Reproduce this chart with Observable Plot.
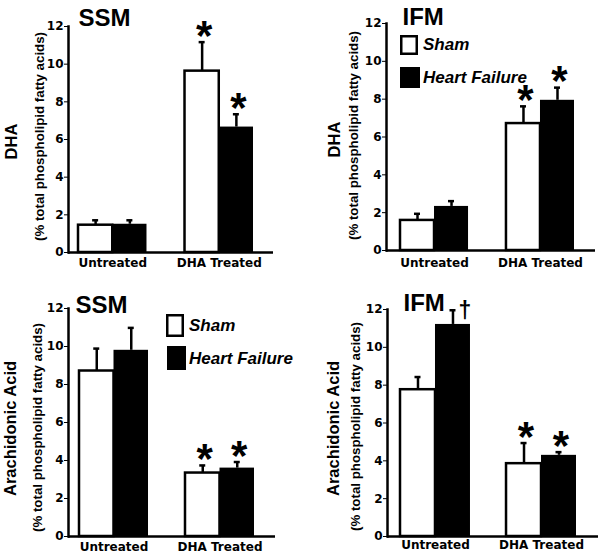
<!DOCTYPE html>
<html><head><meta charset="utf-8">
<script src="https://cdn.jsdelivr.net/npm/d3@7"></script>
<script src="https://cdn.jsdelivr.net/npm/@observablehq/plot@0.6"></script>
<style>
body{margin:0;background:#fff;}
#root{position:relative;width:601px;height:557px;background:#fff;}
.panel{position:absolute;}
</style></head><body><div id="root"></div>
<script>
// ---------- data ----------
const treatments = ["Untreated", "DHA Treated"];
const groups = ["Sham", "Heart Failure"];
const yTicks = [0, 2, 4, 6, 8, 10, 12];
// order of values: Untreated-Sham, Untreated-HF, DHA Treated-Sham, DHA Treated-HF
const ssmDhaMean = [1.45, 1.50, 9.63, 6.66];
const ssmDhaErr  = [0.26, 0.21, 1.54, 0.68];
const ssmDhaSig  = ["", "", "*", "*"];
const ifmDhaMean = [1.59, 2.33, 6.71, 7.94];
const ifmDhaErr  = [0.35, 0.28, 0.91, 0.67];
const ifmDhaSig  = ["", "", "*", "*"];
const ssmAaMean  = [8.71, 9.80, 3.34, 3.60];
const ssmAaErr   = [1.18, 1.18, 0.40, 0.32];
const ssmAaSig   = ["", "", "*", "*"];
const ifmAaMean  = [7.76, 11.21, 3.85, 4.29];
const ifmAaErr   = [0.67, 0.75, 1.09, 0.17];
const ifmAaSig   = ["", "\u2020", "*", "*"];
const titles = ["SSM", "IFM", "SSM", "IFM"];
const yLabels = ["DHA", "DHA", "Arachidonic Acid", "Arachidonic Acid"];
const ySubLabel = "(% total phospholipid fatty acids)";

// ---------- layout ----------
const LIB = "Liberation Sans, Arial, sans-serif";
const DJV = "DejaVu Sans, sans-serif";
const layouts = [
  {left:0, top:0, width:300, height:280, mL:68, mT:26, mR:27, mB:28, inL:10, inR:20, pad:0.357, tickPad:6,
   titleX:78, titleBase:25, lab:[11,141], sub:[39,136], legend:null},
  {left:300, top:0, width:301, height:280, mL:86, mT:23, mR:6, mB:30, inL:14, inR:21, pad:0.358, tickPad:8,
   titleX:102, titleBase:24, lab:[34,139], sub:[53,135],
   legend:{sham:[100,35,18,20], hf:[100,67,20,21], tx:123, ty:[44,77]}},
  {left:0, top:280, width:300, height:277, mL:68, mT:28, mR:25, mB:21, inL:11, inR:21, pad:0.349, tickPad:6,
   titleX:75, titleBase:32, lab:[10,148], sub:[37.5,147],
   legend:{sham:[166,34,18,23], hf:[167,66,19,24], tx:189, ty:[45,78]}},
  {left:300, top:280, width:301, height:277, mL:87, mT:29, mR:3, mB:21, inL:13, inR:22, pad:0.34, tickPad:4,
   titleX:103, titleBase:30, lab:[33,148], sub:[55,146], legend:null}
];
const series = [
  [ssmDhaMean, ssmDhaErr, ssmDhaSig],
  [ifmDhaMean, ifmDhaErr, ifmDhaSig],
  [ssmAaMean, ssmAaErr, ssmAaSig],
  [ifmAaMean, ifmAaErr, ifmAaSig]
];

function legendMark(lg) {
  return () => {
    const g = d3.create("svg:g");
    const [sx, sy, sw, sh] = lg.sham, [hx, hy, hw, hh] = lg.hf;
    g.append("rect").attr("x", sx + 1.25).attr("y", sy + 1.25).attr("width", sw - 2.5).attr("height", sh - 2.5)
      .attr("fill", "white").attr("stroke", "black").attr("stroke-width", 2.5);
    g.append("rect").attr("x", hx).attr("y", hy).attr("width", hw).attr("height", hh).attr("fill", "black");
    [groups[0], groups[1]].forEach((t, i) => {
      g.append("text").attr("x", lg.tx).attr("y", lg.ty[i]).attr("dy", "0.35em")
        .attr("text-anchor", "start").attr("font-family", LIB).attr("font-size", 17)
        .attr("font-weight", "bold").attr("font-style", "italic").attr("fill", "black").text(t);
    });
    return g.node();
  };
}

function panel(k) {
  const cfg = layouts[k];
  const [mean, err, sig] = series[k];
  const rows = mean.map((v, i) => ({treatment: treatments[Math.floor(i / 2)], group: groups[i % 2], value: v, err: err[i], sig: sig[i]}));
  const sham = rows.filter(d => d.group === groups[0]);
  const hf = rows.filter(d => d.group === groups[1]);
  const R = cfg.width - cfg.mL - cfg.mR - cfg.inL - cfg.inR;
  const bw = R / (2 - cfg.pad) * (1 - cfg.pad);
  const q = bw / 4, cap = 3;
  const frameCy = (cfg.mT + cfg.height - cfg.mB) / 2;
  const AST = 42;
  const astDy = 0.40 * AST - 9;
  const top = d => d.value + d.err;
  const marks = [
    Plot.barY(sham, {x: "treatment", y1: 0, y2: "value", insetRight: bw / 2, fill: "white", stroke: "black", strokeWidth: 2.5}),
    Plot.ruleX(sham, {x: "treatment", y1: "value", y2: top, dx: -q, strokeWidth: 2.5}),
    Plot.tickY(sham, {x: "treatment", y: top, insetLeft: q - cap, insetRight: 3 * q - cap, strokeWidth: 2.5}),
    Plot.barY(hf, {x: "treatment", y1: 0, y2: "value", insetLeft: bw / 2, fill: "black"}),
    Plot.ruleX(hf, {x: "treatment", y1: "value", y2: top, dx: q, strokeWidth: 2.5}),
    Plot.tickY(hf, {x: "treatment", y: top, insetLeft: 3 * q - cap, insetRight: q - cap, strokeWidth: 2.5}),
    Plot.text(sham.filter(d => d.sig === "*"), {x: "treatment", y: top, text: "sig", dx: -q + 2, dy: astDy,
      lineAnchor: "bottom", fontSize: AST, fontWeight: "bold", fontFamily: LIB}),
    Plot.text(hf.filter(d => d.sig === "*"), {x: "treatment", y: top, text: "sig", dx: q + 2, dy: astDy,
      lineAnchor: "bottom", fontSize: AST, fontWeight: "bold", fontFamily: LIB}),
    Plot.text(hf.filter(d => d.sig === "\u2020"), {x: "treatment", y: top, text: "sig", dx: q + 12,
      lineAnchor: "middle", fontSize: 23, fontWeight: "bold", fontFamily: LIB}),
    Plot.frame({anchor: "left", strokeWidth: 2.5}),
    Plot.ruleY([0], {strokeWidth: 2.5}),
    Plot.text([titles[k]], {frameAnchor: "top-left", text: d => d, dx: cfg.titleX - cfg.mL, dy: cfg.titleBase - cfg.mT,
      lineAnchor: "bottom", textAnchor: "start", fontSize: 24, fontWeight: "bold", fontFamily: LIB}),
    Plot.text([yLabels[k]], {frameAnchor: "left", text: d => d, rotate: -90, dx: cfg.lab[0] - cfg.mL, dy: cfg.lab[1] - frameCy,
      textAnchor: "middle", lineAnchor: "middle", fontSize: 16.5, fontWeight: "bold", fontFamily: LIB}),
    Plot.text([ySubLabel], {frameAnchor: "left", text: d => d, rotate: -90, dx: cfg.sub[0] - cfg.mL, dy: cfg.sub[1] - frameCy,
      textAnchor: "middle", lineAnchor: "middle", fontSize: 13.3, fontWeight: "bold", fontFamily: LIB})
  ];
  if (cfg.legend) marks.push(legendMark(cfg.legend));
  const chart = Plot.plot({
    width: cfg.width, height: cfg.height,
    marginLeft: cfg.mL, marginTop: cfg.mT, marginRight: cfg.mR, marginBottom: cfg.mB,
    x: {type: "band", domain: treatments, paddingInner: cfg.pad, paddingOuter: 0, insetLeft: cfg.inL, insetRight: cfg.inR,
        round: false, tickSize: 0, tickPadding: cfg.tickPad, label: null},
    y: {domain: [0, 12], ticks: yTicks, tickSize: 4, tickPadding: 1, label: null},
    style: {fontFamily: DJV, fontSize: "12px", fontWeight: "bold", color: "black", background: "white", overflow: "visible"},
    marks
  });
  const div = document.createElement("div");
  div.className = "panel";
  div.style.left = cfg.left + "px";
  div.style.top = cfg.top + "px";
  div.appendChild(chart);
  document.getElementById("root").appendChild(div);
}
for (let k = 0; k < 4; k++) panel(k);
</script>
</body></html>
